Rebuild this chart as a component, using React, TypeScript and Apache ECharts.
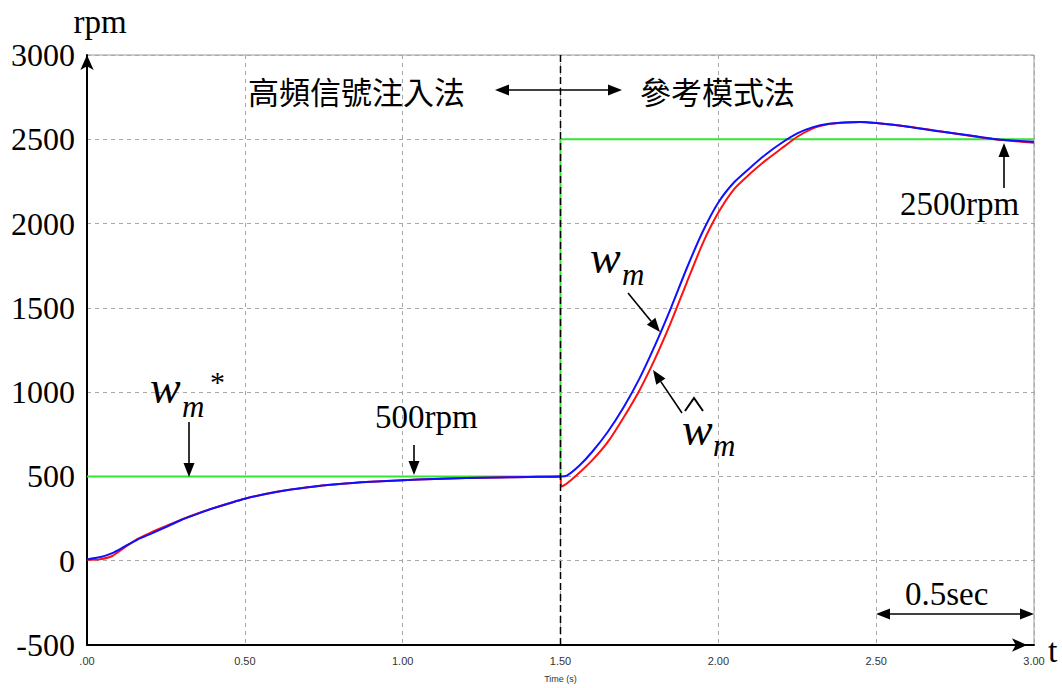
import React, { useEffect, useRef } from "react";
import * as echarts from "echarts";

// ---- data ----
const refTime = [0, 1.5, 1.5, 3.0];
const refSpeed = [500, 500, 2500, 2500];

const wmTime = [0, 0.04, 0.08, 0.12, 0.16, 0.2, 0.25, 0.3, 0.35, 0.4, 0.5, 0.6, 0.7, 0.8, 0.9, 1.0, 1.1, 1.2, 1.3, 1.4, 1.5, 1.52, 1.56, 1.6, 1.65, 1.7, 1.75, 1.8, 1.85, 1.9, 1.95, 2.0, 2.05, 2.1, 2.15, 2.2, 2.25, 2.3, 2.35, 2.4, 2.45, 2.5, 2.6, 2.7, 2.8, 2.9, 3.0];
const wmSpeed = [8, 20, 45, 85, 125, 158, 200, 243, 278, 311, 368, 408, 436, 455, 468, 478, 485, 490, 494, 497, 500, 505, 565, 645, 765, 910, 1080, 1280, 1500, 1735, 1950, 2125, 2245, 2330, 2410, 2478, 2535, 2572, 2592, 2600, 2603, 2596, 2575, 2547, 2522, 2497, 2485];

const estTime = [0, 0.04, 0.08, 0.12, 0.16, 0.2, 0.25, 0.3, 0.35, 0.4, 0.5, 0.6, 0.7, 0.8, 0.9, 1.0, 1.1, 1.2, 1.3, 1.4, 1.5, 1.502, 1.52, 1.55, 1.6, 1.65, 1.7, 1.75, 1.8, 1.85, 1.9, 1.95, 2.0, 2.05, 2.1, 2.15, 2.2, 2.25, 2.3, 2.35, 2.4, 2.45, 2.5, 2.6, 2.7, 2.8, 2.9, 3.0];
const estSpeed = [5, 8, 28, 80, 130, 165, 205, 245, 280, 312, 368, 409, 436, 455, 468, 478, 485, 490, 494, 497, 500, 440, 458, 505, 595, 705, 850, 1010, 1200, 1415, 1650, 1880, 2065, 2205, 2295, 2375, 2445, 2515, 2565, 2590, 2600, 2603, 2597, 2576, 2548, 2520, 2495, 2480];

const switchTime = [1.5, 1.5];
const switchSpeed = [-500, 3000];

const xTicks = [0, 0.5, 1.0, 1.5, 2.0, 2.5, 3.0];

const zip = (t: number[], v: number[]) => t.map((x, i) => [x, v[i]]);

const SERIF = "'Liberation Serif', 'Times New Roman', serif";
const CJK = "'Noto Sans CJK TC', 'Noto Sans CJK SC', sans-serif";

function arrow(x1: number, y1: number, x2: number, y2: number, head = 14, width = 11, lw = 1.6): any[] {
  const len = Math.hypot(x2 - x1, y2 - y1);
  const dx = (x2 - x1) / len;
  const dy = (y2 - y1) / len;
  const bx = x2 - dx * head;
  const by = y2 - dy * head;
  const nx = -dy;
  const ny = dx;
  return [
    { type: "line", shape: { x1, y1, x2: bx, y2: by }, style: { stroke: "#000", lineWidth: lw }, z: 100 },
    {
      type: "polygon",
      shape: { points: [[x2, y2], [bx + (nx * width) / 2, by + (ny * width) / 2], [bx - (nx * width) / 2, by - (ny * width) / 2]] },
      style: { fill: "#000" },
      z: 100,
    },
  ];
}

function txt(text: string, x: number, y: number, size: number, opts: any = {}): any {
  return {
    type: "text",
    x,
    y,
    z: 100,
    style: {
      text,
      fontSize: size,
      fontFamily: opts.family || SERIF,
      fontStyle: opts.italic ? "italic" : "normal",
      fill: "#000",
      align: opts.align || "left",
      verticalAlign: "middle",
    },
  };
}

export default function App() {
  const ref = useRef<HTMLDivElement>(null);
  useEffect(() => {
    if (!ref.current) return;
    const chart = echarts.init(ref.current, undefined, { renderer: "svg" });
    const graphic: any[] = [
      txt("rpm", 100, 22, 33, { align: "center" }),
      txt("t", 1048, 650, 34),
      txt("高頻信號注入法", 248, 90, 31, { family: CJK }),
      txt("參考模式法", 640, 90, 31, { family: CJK }),
      ...arrow(560, 90, 495, 90),
      ...arrow(560, 90, 622, 90),
      // w_m*
      txt("w", 150, 387, 46, { italic: true }),
      txt("m", 182, 406, 31, { italic: true }),
      txt("*", 210, 381, 30),
      ...arrow(189, 422, 189, 477),
      // 500rpm
      txt("500rpm", 375, 417, 33),
      ...arrow(414, 445, 414, 475),
      // w_m
      txt("w", 590, 257, 46, { italic: true }),
      txt("m", 622, 274, 31, { italic: true }),
      ...arrow(628, 293, 660, 332),
      // w_m hat
      txt("w", 682, 429, 46, { italic: true }),
      {
        type: "polyline",
        shape: { points: [[685, 411], [694, 398], [703, 411]] },
        style: { stroke: "#000", lineWidth: 2, fill: "none" },
        z: 100,
      },
      txt("m", 713, 445, 31, { italic: true }),
      ...arrow(682, 413, 653, 370),
      // 2500rpm
      txt("2500rpm", 900, 204, 33),
      ...arrow(1004, 188, 1004, 143),
      // 0.5sec
      txt("0.5sec", 905, 594, 33),
      ...arrow(955, 614, 876, 614),
      ...arrow(955, 614, 1034, 614),
    ];
    chart.setOption({
      animation: false,
      backgroundColor: "#fff",
      grid: { left: 87, right: 28, top: 55, bottom: 41, show: true, borderColor: "#9a9a9a", borderWidth: 1 },
      xAxis: {
        type: "value",
        min: 0,
        max: 3,
        interval: 0.5,
        name: "Time (s)",
        nameLocation: "middle",
        nameGap: 29,
        nameTextStyle: { fontSize: 9, color: "#333", fontFamily: "'Liberation Sans', Arial, sans-serif" },
        axisLine: { show: true, onZero: false, lineStyle: { color: "#000", width: 2 }, symbol: ["none", "arrow"], symbolSize: [10, 15], symbolOffset: [0, -7] },
        axisTick: { show: false },
        axisLabel: {
          fontSize: 11,
          color: "#333",
          margin: 10,
          fontFamily: "'Liberation Sans', Arial, sans-serif",
          formatter: (v: number) => (xTicks.indexOf(v) === 0 ? ".00" : v.toFixed(2)),
        },
        splitLine: { show: true, lineStyle: { color: "#a8a8a8", type: [4, 4], width: 1 } },
      },
      yAxis: {
        type: "value",
        min: -500,
        max: 3000,
        interval: 500,
        axisLine: { show: true, onZero: false, lineStyle: { color: "#000", width: 2 }, symbol: ["none", "arrow"], symbolSize: [10, 15], symbolOffset: [0, 0] },
        axisTick: { show: false },
        axisLabel: { fontSize: 32, color: "#000", margin: 12, fontFamily: SERIF, formatter: (v: number) => String(v) },
        splitLine: { show: true, lineStyle: { color: "#a8a8a8", type: [4, 4], width: 1 } },
      },
      series: [
        {
          name: "wm*",
          type: "line",
          data: zip(refTime, refSpeed),
          showSymbol: false,
          lineStyle: { color: "#33e633", width: 2 },
          z: 2,
        },
        {
          name: "wm_hat",
          type: "line",
          data: zip(estTime, estSpeed),
          showSymbol: false,
          smooth: 0.2,
          lineStyle: { color: "#ff1010", width: 2 },
          z: 3,
        },
        {
          name: "wm",
          type: "line",
          data: zip(wmTime, wmSpeed),
          showSymbol: false,
          smooth: 0.2,
          lineStyle: { color: "#1010ff", width: 2 },
          z: 4,
        },
        {
          name: "switch",
          type: "line",
          data: zip(switchTime, switchSpeed),
          showSymbol: false,
          lineStyle: { color: "#000", width: 1.5, type: [7, 4] },
          z: 5,
        },
      ],
      graphic,
    });
    return () => chart.dispose();
  }, []);
  return <div ref={ref} style={{ position: "fixed", left: 0, top: 0, width: 1062, height: 688, background: "#fff" }} />;
}
